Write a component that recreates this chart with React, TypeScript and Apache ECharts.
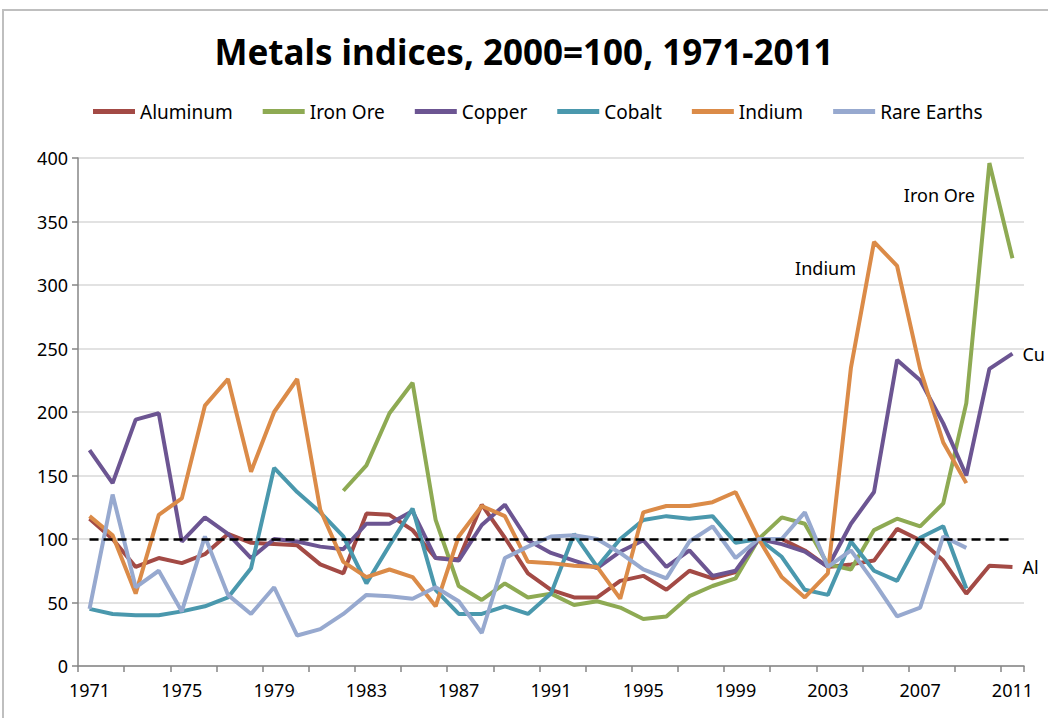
import React, { useEffect, useRef } from "react";
import * as echarts from "echarts";

const years: string[] = [];
for (let y = 1971; y <= 2011; y++) years.push(String(y));

const aluminum = [116, 100, 78, 85, 81, 88, 104, 97, 96, 95, 80, 73, 120, 119, 107, 85, 84, 127, 101, 73, 60, 54, 54, 67, 71, 60, 75, 69, 74, 100, 100, 91, 78, 80, 83, 108, 99, 83, 57, 79, 78];
const ironOre = [null, null, null, null, null, null, null, null, null, null, null, 138, 158, 199, 223, 115, 63, 52, 65, 54, 57, 48, 51, 46, 37, 39, 55, 63, 69, 100, 117, 112, 80, 76, 107, 116, 110, 128, 207, 396, 321];
const copper = [170, 144, 194, 199, 98, 117, 104, 85, 100, 98, 94, 92, 112, 112, 122, 85, 83, 111, 127, 99, 89, 83, 77, 90, 99, 78, 91, 71, 75, 100, 96, 90, 78, 112, 137, 241, 225, 191, 150, 234, 246];
const cobalt = [45, 41, 40, 40, 43, 47, 54, 77, 156, 137, 121, 102, 65, 95, 124, 60, 41, 41, 47, 41, 57, 104, 78, 100, 115, 118, 116, 118, 97, 100, 86, 60, 56, 98, 75, 67, 101, 110, 61, null, null];
const indium = [118, 103, 57, 119, 132, 205, 226, 153, 200, 226, 123, 82, 70, 76, 70, 47, 102, 126, 118, 82, 81, 79, 78, 53, 121, 126, 126, 129, 137, 100, 70, 54, 73, 235, 334, 315, 234, 176, 144, null, null];
const rareEarths = [45, 135, 62, 75, 43, 102, 56, 41, 62, 24, 29, 41, 56, 55, 53, 62, 51, 26, 85, 94, 102, 103, 100, 89, 76, 69, 98, 110, 85, 100, 100, 121, 78, 91, 66, 39, 46, 102, 93, null, null];

const seriesNames = ["Aluminum", "Iron Ore", "Copper", "Cobalt", "Indium", "Rare Earths"];
const seriesData = [aluminum, ironOre, copper, cobalt, indium, rareEarths];
const colors = ["#A34A45", "#8EAA53", "#6C5592", "#4A98AD", "#DB8B48", "#97A9CF"];
const baseline = 100;
const yTicks = { min: 0, max: 400, interval: 50 };

const FONT = "Noto Sans";

export default function App() {
  const ref = useRef<HTMLDivElement>(null);
  useEffect(() => {
    if (!ref.current) return;
    const chart = echarts.init(ref.current, undefined, { renderer: "svg" });
    const series: any[] = seriesNames.map((name, i) => ({
      name,
      type: "line",
      data: seriesData[i],
      symbol: "none",
      connectNulls: false,
      lineStyle: { width: 4, color: colors[i] },
      itemStyle: { color: colors[i] },
      z: 2 + i,
    }));
    series[0].endLabel = {
      show: true,
      formatter: "Al",
      distance: 10,
      color: "#000",
      fontFamily: FONT,
      fontSize: 18,
    };
    series[2].endLabel = {
      show: true,
      formatter: "Cu",
      distance: 10,
      color: "#000",
      fontFamily: FONT,
      fontSize: 18,
    };
    series[5].markLine = {
      silent: true,
      symbol: "none",
      label: { show: false },
      lineStyle: { color: "#000", type: [9, 5], width: 2.5 },
      data: [[{ coord: [years[0], baseline] }, { coord: [years[years.length - 1], baseline] }]],
      z: 20,
    };

    chart.setOption({
      animation: false,
      backgroundColor: "#fff",
      color: colors,
      title: {
        text: "Metals indices, 2000=100, 1971-2011",
        left: "center",
        top: 29,
        textStyle: { fontFamily: FONT, fontSize: 35, fontWeight: "bold", color: "#000" },
      },
      legend: {
        data: seriesNames,
        left: 88,
        top: 97,
        icon: "rect",
        itemWidth: 42,
        itemHeight: 5,
        itemGap: 30,
        textStyle: { fontFamily: FONT, fontSize: 19, color: "#000" },
      },
      grid: { left: 78, right: 24, top: 158, bottom: 52, containLabel: false },
      xAxis: {
        type: "category",
        data: years,
        boundaryGap: true,
        axisLine: { show: true, lineStyle: { color: "#868686", width: 1.5 } },
        axisTick: { show: true, interval: 1, length: 6, lineStyle: { color: "#868686", width: 1.5 } },
        axisLabel: { interval: 3, margin: 15, fontFamily: FONT, fontSize: 18, color: "#000" },
        splitLine: { show: false },
      },
      yAxis: {
        type: "value",
        min: yTicks.min,
        max: yTicks.max,
        interval: yTicks.interval,
        axisLine: { show: true, lineStyle: { color: "#868686", width: 1.5 } },
        axisTick: { show: true, length: 6, lineStyle: { color: "#868686", width: 1.5 } },
        axisLabel: { margin: 10, fontFamily: FONT, fontSize: 18, color: "#000" },
        splitLine: { show: true, lineStyle: { color: "#D9D9D9", width: 1.5 } },
      },
      graphic: [
        {
          type: "rect",
          shape: { x: 3, y: 10, width: 1100, height: 800 },
          style: { fill: "none", stroke: "#BFBFBF", lineWidth: 2 },
          silent: true,
          z: -1,
        },
        {
          type: "text",
          x: 975,
          y: 195,
          style: { text: "Iron Ore", fontFamily: FONT, fontSize: 18, fill: "#000", textAlign: "right", textVerticalAlign: "middle" },
        },
        {
          type: "text",
          x: 856,
          y: 268,
          style: { text: "Indium", fontFamily: FONT, fontSize: 18, fill: "#000", textAlign: "right", textVerticalAlign: "middle" },
        },
      ],
      series,
    });
    return () => chart.dispose();
  }, []);
  return <div ref={ref} style={{ position: "fixed", left: 0, top: 0, width: 1048, height: 718 }} />;
}
